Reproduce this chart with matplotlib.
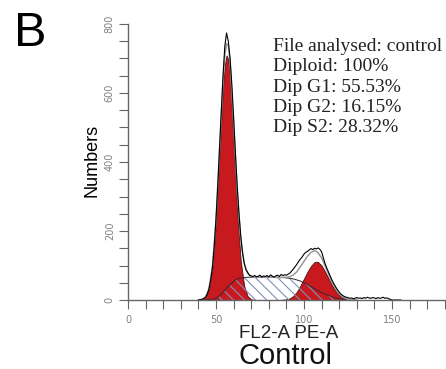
import numpy as np
import matplotlib
matplotlib.use('Agg')
import matplotlib.pyplot as plt
from matplotlib.ticker import MultipleLocator

# channels of the measured histogram (FL2-A)
channel = np.arange(40, 156)
counts = [0, 1, 2, 4, 8, 16, 32, 58, 95, 155,
          235, 330, 440, 545, 650, 735, 774, 750, 700, 625,
          530, 430, 335, 255, 190, 140, 108, 88, 80, 72,
          70, 68, 71, 67, 69, 72, 66, 70, 68, 71,
          67, 73, 69, 66, 70, 72, 68, 74, 71, 73,
          72, 75, 78, 84, 90, 97, 104, 112, 119, 125,
          133, 138, 141, 145, 149, 146, 150, 148, 151, 147,
          140, 122, 105, 92, 80, 68, 57, 47, 38, 30,
          23, 17, 13, 10, 8, 7, 5, 6, 4, 5,
          7, 5, 6, 4, 7, 5, 8, 6, 5, 7,
          6, 4, 7, 5, 6, 8, 5, 6, 4, 2,
          0, 0, 0, 0, 0, 0]

# fitted components (ModFit style)
comp_x = [40, 42, 44, 46, 48, 50, 52, 54, 55, 56, 57, 58, 60, 62, 64, 66, 68, 70,
          72, 74, 76, 78, 80, 82, 84, 86, 88, 90, 92, 94, 96, 98, 100, 102, 104,
          106, 107, 108, 110, 112, 114, 116, 118, 120, 122, 124, 126, 128, 130]
g1 = [0, 2, 8, 32, 96, 226, 420, 615, 680, 709, 697, 645, 462, 261, 116, 41, 11, 2,
      0, 0, 0, 0, 0, 0, 0, 0, 0, 0, 0, 0, 0, 0, 0, 0, 0,
      0, 0, 0, 0, 0, 0, 0, 0, 0, 0, 0, 0, 0, 0]
s_phase = [0, 0, 0, 1, 2, 5, 12, 22, 28, 34, 40, 45, 54, 61, 64, 65, 66, 66,
           66, 66, 66, 66, 66, 66, 66, 65, 65, 64, 63, 61, 58, 55, 50, 45, 39,
           33, 30, 27, 22, 17, 13, 9, 6, 4, 2, 1, 0, 0, 0]
g2 = [0, 0, 0, 0, 0, 0, 0, 0, 0, 0, 0, 0, 0, 0, 0, 0, 0, 0,
      0, 0, 0, 0, 0, 0, 0, 0, 1, 2, 5, 12, 24, 42, 62, 82, 99,
      110, 111, 110, 100, 82, 62, 42, 26, 14, 7, 3, 1, 0, 0]

stats = ['File analysed: control', 'Diploid: 100%', 'Dip G1: 55.53%',
         'Dip G2: 16.15%', 'Dip S2: 28.32%']

fit = np.array(g1) + np.array(s_phase) + np.array(g2)

red = '#c81a1e'
fig = plt.figure(figsize=(4.46, 3.69), dpi=100)
ax = fig.add_axes([128/446, 1-300/369, 318/446, 276/369])

ax.fill_between(comp_x, g1, facecolor=red, edgecolor='#4a1010', lw=0.6)
ax.fill_between(comp_x, g2, facecolor=red, edgecolor='#4a1010', lw=0.6)
plt.rcParams['hatch.linewidth'] = 0.8
ax.fill_between(comp_x, s_phase, facecolor='none', edgecolor='#7f91b8',
                hatch='\\\\\\', linewidth=0)
ax.plot(comp_x, s_phase, color='#3c2430', lw=0.7)
ax.plot(comp_x, fit, color='#999999', lw=1.1)
ax.plot(channel, counts, color='black', lw=0.8)

ax.set_xlim(0, 180.7)
ax.set_ylim(0, 800)
ax.spines['top'].set_visible(False)
ax.spines['right'].set_visible(False)
for sp in ['left', 'bottom']:
    ax.spines[sp].set_color('#666666')
    ax.spines[sp].set_linewidth(1.0)

ax.xaxis.set_major_locator(MultipleLocator(50))
ax.xaxis.set_minor_locator(MultipleLocator(10))
ax.yaxis.set_major_locator(MultipleLocator(200))
ax.yaxis.set_minor_locator(MultipleLocator(50))
ax.tick_params(which='both', direction='out', length=6.5, width=0.8,
               color='#666666', labelsize=7, labelcolor='#808080')
ax.tick_params(axis='x', pad=4)
ax.tick_params(axis='y', pad=3, labelrotation=90)
for lab in ax.get_yticklabels():
    lab.set_va('center')

sans = 'Liberation Sans'
fig.text(30/446, 1-33/369, 'B', fontsize=35, family=sans, ha='center', va='center')
fig.text(92/446, 1-160/369, 'Numbers', fontsize=13, family=sans, rotation=90,
         ha='center', va='center')
fig.text(289/446, 1-333/369, 'FL2-A PE-A', fontsize=13.5, family=sans,
         ha='center', va='center', color='#222222')
fig.text(286/446, 1-356/369, 'Control', fontsize=21, family=sans,
         ha='center', va='center', color='#111111')

line_y = [46.7, 66.9, 87.1, 107.4, 127.6]
for txt, yy in zip(stats, line_y):
    fig.text(273/446, 1-yy/369, txt, fontsize=14, family='Liberation Serif',
             ha='left', va='center', color='#222222')

fig.savefig('out.png', dpi=100)
